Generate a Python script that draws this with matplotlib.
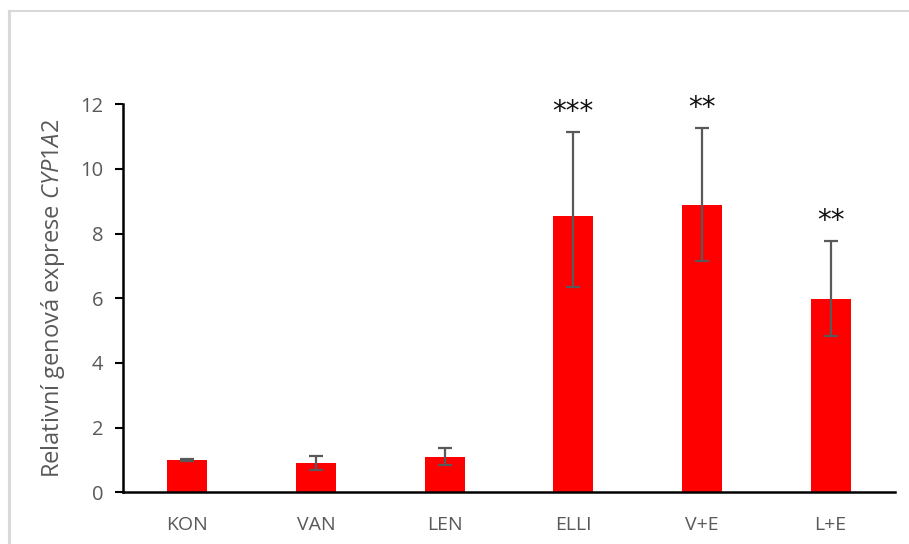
import matplotlib.pyplot as plt
from matplotlib.lines import Line2D

plt.rcParams['font.family'] = ['Open Sans', 'DejaVu Sans']
plt.rcParams['mathtext.fontset'] = 'custom'
plt.rcParams['mathtext.rm'] = 'Open Sans'
plt.rcParams['mathtext.it'] = 'Open Sans:italic'

groups = ['KON', 'VAN', 'LEN', 'ELLI', 'V+E', 'L+E']
expr = [1.0, 0.9, 1.1, 8.53, 8.87, 5.99]
err_low = [0.03, 0.22, 0.25, 2.19, 1.72, 1.16]
err_high = [0.03, 0.23, 0.27, 2.61, 2.40, 1.79]
stars = ['', '', '', '***', '**', '**']

gray = '#595959'

fig = plt.figure(figsize=(9.09, 5.44), dpi=100)
ax = fig.add_axes([0.1353, 0.0947, 0.8493, 0.7141])

x = list(range(len(groups)))
ax.bar(x, expr, width=0.31, color='#FF0000', zorder=2)
ax.errorbar(x, expr, yerr=[err_low, err_high], fmt='none', ecolor=gray,
            elinewidth=1.6, capsize=5, capthick=1.6, zorder=3)

# significance marks above the error bars
for xi, v, hi, s in zip(x, expr, err_high, stars):
    if s:
        ax.text(xi, v + hi + 0.62, s, ha='center', va='center',
                fontsize=20, color='#111111', family='DejaVu Sans')

ax.set_xlim(-0.5, 5.5)
ax.set_ylim(0, 12)
ax.set_yticks(range(0, 13, 2))
ax.set_xticks(x)
ax.set_xticklabels(groups)

for side in ['top', 'right']:
    ax.spines[side].set_visible(False)
ax.spines['left'].set_linewidth(1.8)
ax.spines['bottom'].set_linewidth(1.8)
ax.tick_params(axis='y', direction='out', length=6, width=1.5,
               labelsize=14.5, labelcolor=gray, pad=8)
ax.tick_params(axis='x', length=0, labelsize=14, labelcolor=gray, pad=17)

ax.set_ylabel(r'Relativní genová exprese $\mathit{CYP1A2}$',
              fontsize=17, color=gray, labelpad=10)

# light chart border on the left and top
fig.add_artist(Line2D([9 / 909, 9 / 909], [0, 1 - 10.5 / 544],
                      color='#D9D9D9', linewidth=2.2, transform=fig.transFigure))
fig.add_artist(Line2D([9 / 909, 1], [1 - 10.5 / 544, 1 - 10.5 / 544],
                      color='#D9D9D9', linewidth=1.5, transform=fig.transFigure))

fig.savefig('out.png', dpi=100)
